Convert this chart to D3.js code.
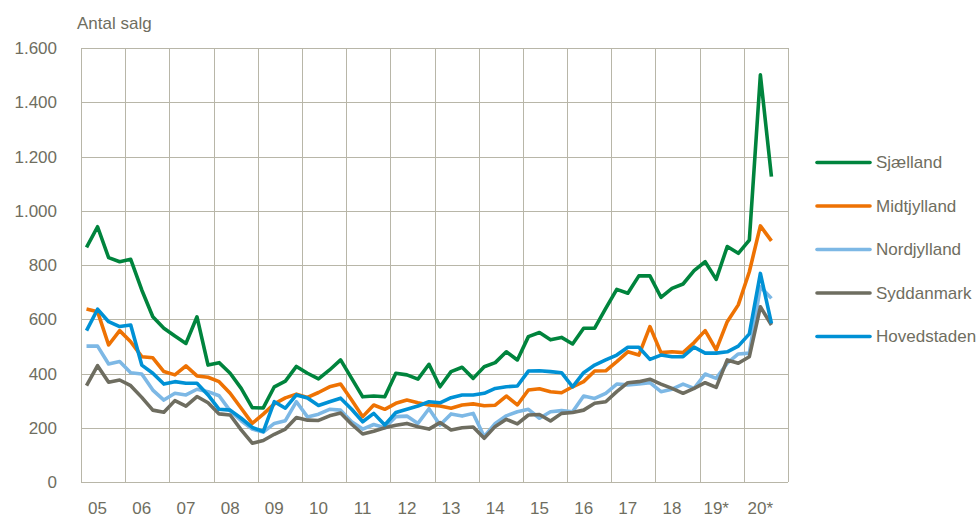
<!DOCTYPE html>
<html>
<head>
<meta charset="utf-8">
<script src="https://cdn.jsdelivr.net/npm/d3@7"></script>
<style>
  body { margin: 0; background: #fff; }
  text { font-family: "Liberation Sans", Arial, sans-serif; fill: #6f6e5f; }
</style>
</head>
<body>
<div id="chart"></div>
<script>
const width = 979;
const height = 517;

// Quarterly sales, 2005 Q1 .. 2020 Q3
const yearLabels = ["05", "06", "07", "08", "09", "10", "11", "12", "13", "14", "15", "16", "17", "18", "19*", "20*"];

const sjaelland = [865, 941, 827, 812, 821, 708, 609, 567, 538, 511, 609, 431, 440, 401, 345, 274,
  273, 351, 372, 426, 401, 380, 413, 450, 382, 314, 317, 314, 401, 395, 379, 434,
  351, 407, 423, 382, 425, 440, 480, 450, 536, 551, 524, 533, 509, 567, 567, 640,
  710, 696, 760, 760, 681, 714, 730, 779, 812, 747, 868, 843, 892, 1501, 1126];

const midtjylland = [638, 628, 505, 558, 517, 462, 458, 407, 395, 428, 391, 386, 370, 327, 272, 216,
  250, 288, 310, 324, 312, 330, 351, 361, 302, 241, 284, 268, 290, 302, 292, 284,
  280, 272, 284, 288, 281, 283, 317, 284, 339, 344, 333, 329, 351, 370, 409, 410,
  444, 480, 468, 573, 477, 480, 477, 514, 558, 487, 591, 653, 775, 944, 889];

const nordjylland = [501, 501, 435, 444, 403, 398, 339, 302, 327, 321, 342, 333, 318, 262, 226, 195,
  184, 216, 226, 296, 240, 250, 268, 265, 222, 195, 212, 200, 241, 243, 216, 270,
  210, 251, 243, 253, 167, 216, 244, 259, 268, 235, 259, 263, 259, 317, 308, 327,
  361, 358, 361, 366, 333, 342, 361, 345, 398, 382, 438, 472, 475, 720, 677];

const syddanmark = [355, 429, 368, 376, 355, 312, 265, 257, 300, 280, 315, 292, 251, 247, 192, 143,
  153, 176, 195, 238, 228, 227, 244, 254, 213, 177, 187, 200, 209, 216, 204, 195,
  219, 192, 200, 203, 161, 205, 231, 214, 247, 249, 225, 253, 256, 265, 290, 296,
  333, 366, 370, 379, 361, 345, 327, 345, 366, 349, 450, 438, 462, 646, 579];

const hovedstaden = [558, 637, 591, 573, 579, 431, 401, 361, 370, 364, 364, 321, 268, 265, 235, 201,
  186, 296, 272, 321, 310, 282, 296, 309, 268, 222, 253, 210, 256, 268, 280, 296,
  292, 311, 321, 321, 327, 345, 351, 354, 409, 410, 407, 403, 351, 403, 431, 450,
  468, 497, 497, 452, 468, 462, 462, 497, 475, 475, 480, 501, 546, 769, 585];

const seriesNames = ["Sjælland", "Midtjylland", "Nordjylland", "Syddanmark", "Hovedstaden"];
const seriesValues = [sjaelland, midtjylland, nordjylland, syddanmark, hovedstaden];
const seriesColors = ["#00843d", "#ee7203", "#7db8e5", "#6e6d60", "#0091d5"];

const yTicks = [0, 200, 400, 600, 800, 1000, 1200, 1400, 1600];

const margin = { left: 81, right: 788, top: 48, bottom: 482 };
const gridColor = "#b8b6a8";

const locale = d3.formatLocale({ decimal: ",", thousands: ".", grouping: [3], currency: ["", " kr"] });
const fmt = locale.format(",");

// one slot per quarter
const x = d3.scaleLinear()
  .domain([0, yearLabels.length * 4])
  .range([margin.left, margin.right]);

const y = d3.scaleLinear()
  .domain([0, 1600])
  .range([margin.bottom, margin.top]);

const svg = d3.select("#chart").append("svg")
  .attr("width", width)
  .attr("height", height);

// horizontal grid
svg.append("g").selectAll("line")
  .data(yTicks)
  .join("line")
  .attr("x1", margin.left).attr("x2", margin.right)
  .attr("y1", d => Math.round(y(d)) + 0.5).attr("y2", d => Math.round(y(d)) + 0.5)
  .attr("stroke", gridColor)
  .attr("stroke-width", 1);

// vertical grid at year boundaries
svg.append("g").selectAll("line")
  .data(d3.range(yearLabels.length + 1))
  .join("line")
  .attr("x1", d => Math.round(x(d * 4)) + 0.5).attr("x2", d => Math.round(x(d * 4)) + 0.5)
  .attr("y1", margin.top).attr("y2", margin.bottom)
  .attr("stroke", gridColor)
  .attr("stroke-width", 1);

// y labels
svg.append("g").selectAll("text")
  .data(yTicks)
  .join("text")
  .attr("x", 57)
  .attr("y", d => y(d))
  .attr("dy", "0.36em")
  .attr("text-anchor", "end")
  .style("font-size", "17px")
  .text(d => fmt(d));

// x labels, placed at the second quarter of each year
svg.append("g").selectAll("text")
  .data(yearLabels)
  .join("text")
  .attr("x", (d, i) => x(i * 4 + 1.5))
  .attr("y", 514)
  .attr("text-anchor", "middle")
  .style("font-size", "17px")
  .text(d => d);

// axis title
svg.append("text")
  .attr("x", 77)
  .attr("y", 29)
  .style("font-size", "17px")
  .text("Antal salg");

const line = d3.line()
  .x((d, i) => x(i + 0.5))
  .y(d => y(d));

svg.append("g").selectAll("path")
  .data(seriesValues)
  .join("path")
  .attr("d", d => line(d))
  .attr("fill", "none")
  .attr("stroke", (d, i) => seriesColors[i])
  .attr("stroke-width", 3.6)
  .attr("stroke-linejoin", "round");

// legend
const legend = svg.append("g").selectAll("g")
  .data(seriesNames)
  .join("g")
  .attr("transform", (d, i) => `translate(817,${162.5 + i * 43.5})`);

legend.append("line")
  .attr("x1", 0).attr("x2", 53)
  .attr("stroke", (d, i) => seriesColors[i])
  .attr("stroke-width", 3.6)
  .attr("stroke-linecap", "round");

legend.append("text")
  .attr("x", 59)
  .attr("dy", "0.33em")
  .style("font-size", "17px")
  .text(d => d);
</script>
</body>
</html>
